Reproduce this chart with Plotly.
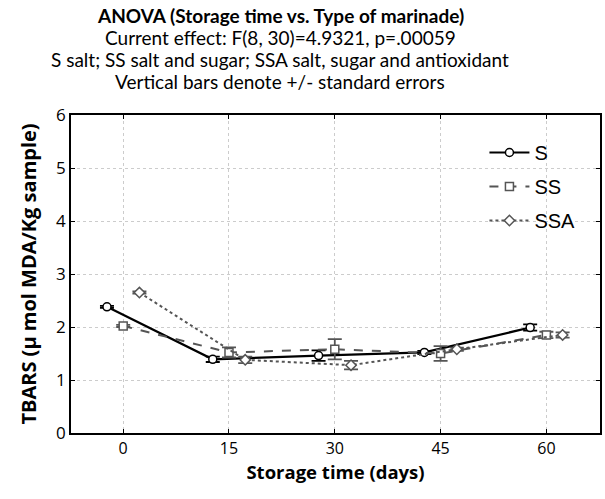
import plotly.graph_objects as go

days = [0, 15, 30, 45, 60]
tick_labels = ["0", "15", "30", "45", "60"]

s_vals = [2.38, 1.39, 1.46, 1.52, 1.99]
s_err = [0.02, 0.05, 0.10, 0.03, 0.06]
ss_vals = [2.02, 1.52, 1.58, 1.50, 1.85]
ss_err = [0.02, 0.095, 0.19, 0.14, 0.06]
ssa_vals = [2.65, 1.38, 1.28, 1.58, 1.85]
ssa_err = [0.02, 0.06, 0.08, 0.03, 0.05]

series_names = ["S", "SS", "SSA"]

FONT = "Open Sans"
TFONT = "Lato"
shift = 2.3

fig = go.Figure()

specs = [
    (series_names[0], s_vals, s_err, -shift, "black", "solid", "circle", 2.2),
    (series_names[1], ss_vals, ss_err, 0.0, "#555555", "dash", "square", 2.0),
    (series_names[2], ssa_vals, ssa_err, shift, "#555555", "dot", "diamond", 2.0),
]

for name, vals, err, off, col, dash, sym, lw in specs:
    fig.add_trace(go.Scatter(
        x=[d + off for d in days], y=vals, name=name, legendgroup=name,
        mode="lines+markers",
        line=dict(color=col, width=lw, dash=dash),
        marker=dict(symbol=sym, size=8, color="white", line=dict(color=col, width=1.5)),
        error_y=dict(type="data", array=err, visible=True, color=col, thickness=1.8, width=7),
    ))

axis_common = dict(
    showline=True, linecolor="black", linewidth=1.5, mirror="ticks",
    ticks="inside", ticklen=4, tickcolor="black",
    showgrid=True, gridcolor="#cccccc", griddash="dot", gridwidth=1,
    zeroline=False,
)

fig.update_xaxes(
    range=[-7.4, 67.6], tickvals=days, ticktext=tick_labels,
    tickfont=dict(family=FONT, size=16, color="black"),
    title=dict(text="<b>Storage time (days)</b>", font=dict(family=FONT, size=18.5, color="black"), standoff=6),
    **axis_common,
)
fig.update_yaxes(
    range=[0, 6], tickvals=[0, 1, 2, 3, 4, 5, 6],
    tickfont=dict(family=FONT, size=17, color="black"),
    title=dict(text="<b>TBARS (\u00b5 mol MDA/Kg sample)</b>", font=dict(family=FONT, size=20, color="black"), standoff=14),
    **axis_common,
)

title_lines = [
    ("<b>ANOVA (Storage time vs. Type of marinade)</b>", 15),
    ("Current effect: F(8, 30)=4.9321, p=.00059", 37),
    ("S salt; SS salt and sugar; SSA salt, sugar and antioxidant", 60),
    ("Vertical bars denote +/- standard errors", 82),
]
for txt, ypx in title_lines:
    fig.add_annotation(
        text=txt, xref="paper", yref="paper",
        x=(281 - 71) / 531, y=(433 - ypx) / 318,
        xanchor="center", yanchor="middle", showarrow=False,
        font=dict(family=TFONT, size=19, color="black"),
    )

fig.update_layout(
    width=605, height=499,
    margin=dict(l=71, r=3, t=115, b=66),
    paper_bgcolor="white", plot_bgcolor="white",
    showlegend=True,
    legend=dict(
        x=(486 - 71) / 531, y=(433 - 133) / 318, xanchor="left", yanchor="top",
        bgcolor="rgba(0,0,0,0)", font=dict(family="Liberation Sans", size=20, color="black"),
        tracegroupgap=5, itemwidth=40,
    ),
)

fig.write_html("out.html")
